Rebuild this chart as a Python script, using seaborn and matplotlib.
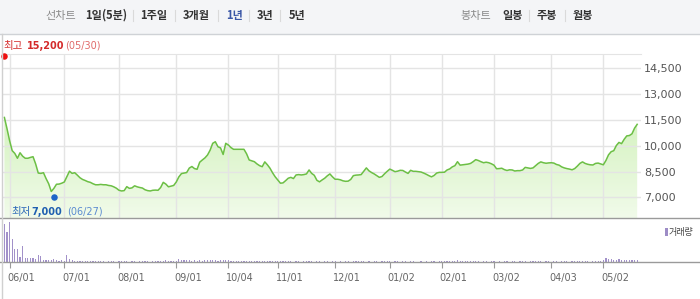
import numpy as np
import pandas as pd
import matplotlib
matplotlib.use("Agg")
import matplotlib.pyplot as plt
import seaborn as sns
from matplotlib.lines import Line2D
from matplotlib.patches import Rectangle
from matplotlib.colors import LinearSegmentedColormap
from matplotlib import transforms

# ---------------- data ----------------
price = [
    11650, 11000, 10300, 9720, 9560, 9280, 9600, 9400, 9280, 9280,
    9330, 9370, 8950, 8420, 8400, 8440, 8100, 7800, 7350, 7530,
    7770, 7780, 7830, 7900, 8210, 8530, 8400, 8440, 8300, 8150,
    8050, 7990, 7920, 7880, 7800, 7740, 7740, 7760, 7740, 7740,
    7700, 7680, 7620, 7540, 7420, 7380, 7400, 7630, 7530, 7560,
    7680, 7620, 7580, 7550, 7450, 7400, 7380, 7420, 7430, 7420,
    7580, 7880, 7780, 7620, 7660, 7700, 7900, 8200, 8390, 8420,
    8450, 8710, 8800, 8680, 8640, 9050, 9180, 9300, 9470, 9750,
    10150, 10240, 9950, 9880, 9500, 10150, 10050, 9900, 9800, 9800,
    9800, 9800, 9800, 9540, 9180, 9130, 9080, 8950, 8850, 8790,
    9070, 8900, 8700, 8430, 8200, 8010, 7830, 7850, 7980, 8120,
    8170, 8100, 8310, 8330, 8310, 8330, 8370, 8600, 8400, 8290,
    8000, 7910, 8020, 8120, 8260, 8370, 8200, 8060, 8060, 8030,
    7970, 7940, 7950, 8050, 8270, 8300, 8310, 8330, 8520, 8720,
    8550, 8450, 8370, 8270, 8170, 8220, 8380, 8520, 8650, 8580,
    8500, 8530, 8580, 8570, 8480, 8400, 8580, 8520, 8520, 8500,
    8480, 8420, 8350, 8270, 8200, 8280, 8420, 8460, 8460, 8470,
    8600, 8660, 8780, 8850, 9080, 8880, 8900, 8920, 8940, 8980,
    9080, 9200, 9150, 9080, 9020, 9050, 9020, 8960, 8880, 8670,
    8680, 8700, 8620, 8570, 8610, 8600, 8540, 8560, 8560, 8600,
    8750, 8720, 8690, 8720, 8850, 8980, 9070, 9020, 8990, 9010,
    9020, 9000, 8920, 8880, 8780, 8720, 8680, 8650, 8610, 8680,
    8820, 8980, 9070, 8980, 8930, 8900, 8890, 8980, 9000, 8950,
    8900, 9150, 9480, 9660, 9720, 10020, 10200, 10130, 10380, 10580,
    10600, 10700, 11030, 11250,
]

volume = [  # thousands of shares
    1150, 900, 1200, 680, 400, 400, 150, 470, 130, 110,
    120, 120, 100, 200, 170, 70, 50, 50, 70, 80,
    50, 30, 50, 30, 200, 100, 50, 35, 30, 25,
    25, 20, 25, 20, 20, 25, 20, 20, 20, 15,
    20, 20, 20, 15, 20, 25, 20, 20, 15, 20,
    20, 15, 20, 25, 20, 20, 15, 20, 20, 25,
    30, 45, 50, 40, 25, 20, 30, 100, 60, 55,
    50, 60, 45, 50, 40, 55, 45, 50, 60, 50,
    75, 60, 45, 55, 60, 75, 50, 40, 30, 30,
    25, 30, 25, 20, 30, 25, 25, 20, 20, 25,
    20, 25, 20, 20, 30, 25, 20, 20, 25, 20,
    20, 15, 20, 20, 15, 20, 20, 25, 20, 15,
    20, 20, 15, 20, 20, 15, 20, 20, 15, 20,
    15, 20, 20, 15, 20, 20, 25, 20, 20, 15,
    20, 15, 20, 20, 15, 20, 25, 20, 20, 15,
    20, 20, 15, 20, 20, 15, 20, 20, 15, 15,
    20, 15, 20, 15, 20, 20, 15, 20, 20, 25,
    30, 35, 40, 45, 50, 35, 30, 25, 20, 20,
    25, 20, 20, 15, 20, 20, 15, 20, 20, 15,
    20, 15, 20, 20, 15, 20, 20, 15, 20, 20,
    20, 15, 20, 20, 25, 20, 20, 15, 20, 20,
    15, 20, 20, 15, 20, 20, 20, 15, 20, 20,
    20, 25, 25, 20, 20, 15, 20, 20, 20, 25,
    70, 110, 90, 80, 75, 70, 80, 75, 70, 65,
    70, 60, 65, 55,
]

market_holidays = ["2022-06-06", "2022-08-15", "2022-09-09", "2022-09-12",
                   "2022-10-03", "2022-10-10", "2022-12-30", "2023-01-23",
                   "2023-01-24", "2023-03-01", "2023-05-01", "2023-05-05"]
tick_dates = ["2022-06-01", "2022-07-01", "2022-08-01", "2022-09-01",
              "2022-10-04", "2022-11-01", "2022-12-01", "2023-01-02",
              "2023-02-01", "2023-03-02", "2023-04-03", "2023-05-02"]
tick_labels = ["06/01", "07/01", "08/01", "09/01", "10/04", "11/01",
               "12/01", "01/02", "02/01", "03/02", "04/03", "05/02"]
price_ticks = [7000, 8500, 10000, 11500, 13000, 14500]
high_value, high_date, high_label = 15200, "2022-05-30", "(05/30)"
low_value, low_date, low_label = 7000, "2022-06-27", "(06/27)"
line_tabs = ["1일(5분)", "1주일", "3개월", "1년", "3년", "5년"]
candle_tabs = ["일봉", "주봉", "월봉"]

# ---------------- helpers ----------------
W, H = 700, 299
fig = plt.figure(figsize=(7.0, 2.99), dpi=100)
fig.patch.set_facecolor("white")
KR = ["Noto Sans CJK KR", "DejaVu Sans"]


def fx(px):
    return px / W


def fy(py):
    return 1 - py / H


dates = pd.bdate_range("2022-05-30", periods=len(price), freq="C",
                       holidays=market_holidays)
df = pd.DataFrame({"idx": np.arange(len(price)), "date": dates,
                   "price": price, "volume": volume})
tick_pos = dates.get_indexer(pd.to_datetime(tick_dates), method="nearest")
high_idx = dates.get_indexer(pd.to_datetime([high_date]), method="nearest")[0]
low_idx = dates.get_indexer(pd.to_datetime([low_date]), method="nearest")[0]

X0 = (2 - 4.4) / 2.604
X1 = (641 - 4.4) / 2.604
YLO, YHI = 5809, 15337

# ---------------- toolbar ----------------
fig.add_artist(Rectangle((0, fy(34)), 1, 34 / H, transform=fig.transFigure,
                         facecolor="#f4f5f7", edgecolor="none", zorder=0))
fig.add_artist(Line2D([0, 1], [fy(34), fy(34)], transform=fig.transFigure,
                      color="#cfd2d6", lw=1))
ty = fy(15.5)
fig.text(fx(45), ty, "선차트", family=KR, size=8, color="#8a8a8a",
         va="center", ha="left")
tab_x = [85, 140, 183, 226, 257, 289]
for t, x in zip(line_tabs, tab_x):
    fig.text(fx(x), ty, t, family=KR, size=8, weight="bold",
             color="#3a56a6" if t == "1년" else "#333333",
             va="center", ha="left")
fig.text(fx(460), ty, "봉차트", family=KR, size=8, color="#8a8a8a",
         va="center", ha="left")
for t, x in zip(candle_tabs, [502, 537, 573]):
    fig.text(fx(x), ty, t, family=KR, size=8, weight="bold", color="#333333",
             va="center", ha="left")
for sx in [132.7, 175, 218, 249, 280, 529, 565]:
    fig.add_artist(Line2D([fx(sx), fx(sx)], [fy(10), fy(21)],
                          transform=fig.transFigure, color="#dadada", lw=0.8))

# ---------------- price panel ----------------
ax = fig.add_axes([fx(2), fy(218), (641 - 2) / W, (218 - 54) / H])
ax.set_facecolor("white")

poly = ax.fill_between(df["idx"], df["price"], YLO, color="none", lw=0)
grad = np.linspace(0, 1, 256).reshape(-1, 1)
cmap = LinearSegmentedColormap.from_list("g", ["#f1fbea", "#d4f2bf"])
im = ax.imshow(grad, extent=[X0, X1, YLO, 11700], origin="lower", cmap=cmap,
               aspect="auto", zorder=1, interpolation="bilinear")
im.set_clip_path(poly.get_paths()[0], transform=ax.transData)

sns.lineplot(data=df, x="idx", y="price", ax=ax, color="#6cbf45",
             linewidth=1.1, zorder=4)

ax.set_xlim(X0, X1)
ax.set_ylim(YLO, YHI)
ax.set_xticks(tick_pos)
ax.set_xticklabels([])
ax.set_yticks(price_ticks)
ax.set_yticklabels([f"{v:,}" for v in price_ticks])
ax.yaxis.tick_right()
ax.tick_params(axis="y", length=0, pad=2.2, labelsize=8, labelcolor="#555555")
ax.tick_params(axis="x", length=0)
ax.grid(True, color="#e4e4e4", lw=1, zorder=2)
ax.set_axisbelow(False)
for gl in ax.get_xgridlines() + ax.get_ygridlines():
    gl.set_zorder(2)
ax.set_xlabel("")
ax.set_ylabel("")
for s in ["left", "right", "bottom"]:
    ax.spines[s].set_visible(False)
ax.spines["top"].set_color("#e4e4e4")

ax.scatter([high_idx], [high_value], s=22, color="#ee1111", zorder=6,
           clip_on=False, linewidths=0)
ax.scatter([low_idx], [low_value], s=22, color="#1c64c8", zorder=6,
           clip_on=False, linewidths=0)

# high / low annotations
fig.text(fx(3), fy(45.7), "최고", family=KR, size=7.5, color="#d42a2a",
         va="center", ha="left")
fig.text(fx(27), fy(45.7), f"{high_value:,}", size=7, weight="bold",
         color="#d42a2a", va="center", ha="left")
fig.text(fx(65), fy(45.7), high_label, size=7, color="#e06a6a",
         va="center", ha="left")
fig.text(fx(11.5), fy(211.7), "최저", family=KR, size=7.5, color="#2a66b8",
         va="center", ha="left")
fig.text(fx(31.5), fy(211.7), f"{low_value:,}", size=7, weight="bold",
         color="#1f5fb0", va="center", ha="left")
fig.text(fx(67), fy(211.7), low_label, size=7, color="#5b8bd0",
         va="center", ha="left")

# ---------------- volume panel ----------------
axv = fig.add_axes([fx(2), fy(262), (641 - 2) / W, (262 - 219) / H])
sns.barplot(data=df, x="idx", y="volume", ax=axv, native_scale=True,
            color="#a291c9", width=0.45, errorbar=None, saturation=1,
            linewidth=0)
axv.set_xlim(X0, X1)
axv.set_ylim(0, 1290)
axv.set_facecolor("none")
for s in axv.spines.values():
    s.set_visible(False)
axv.set_yticks([])
axv.set_xticks(tick_pos)
axv.set_xticklabels([])
axv.tick_params(axis="x", length=4, width=0.8, color="#9a9a9a",
                direction="out")
axv.set_xlabel("")
axv.set_ylabel("")

lbl_tr = transforms.blended_transform_factory(axv.transData, fig.transFigure) \
    + transforms.ScaledTranslation(-2 / 100, 0, fig.dpi_scale_trans)
for p, t in zip(tick_pos, tick_labels):
    axv.text(p, fy(277.5), t, transform=lbl_tr, size=7, color="#666666",
             ha="left", va="center", clip_on=False)

# legend "거래량"
fig.add_artist(Rectangle((fx(664.5), fy(235.5)), 3 / W, 7.5 / H,
                         transform=fig.transFigure, facecolor="#9d8cc6",
                         edgecolor="none"))
fig.text(fx(669), fy(232), "거래량", family=KR, size=6.5, color="#444444",
         va="center", ha="left")

# frame lines
for yy in [218, 262]:
    fig.add_artist(Line2D([0, 1], [fy(yy), fy(yy)], transform=fig.transFigure,
                          color="#9a9a9a", lw=1))
fig.add_artist(Line2D([fx(1.5), fx(1.5)], [fy(34), 0], transform=fig.transFigure,
                      color="#d0d0d0", lw=1))

fig.savefig("out.png", dpi=100)
